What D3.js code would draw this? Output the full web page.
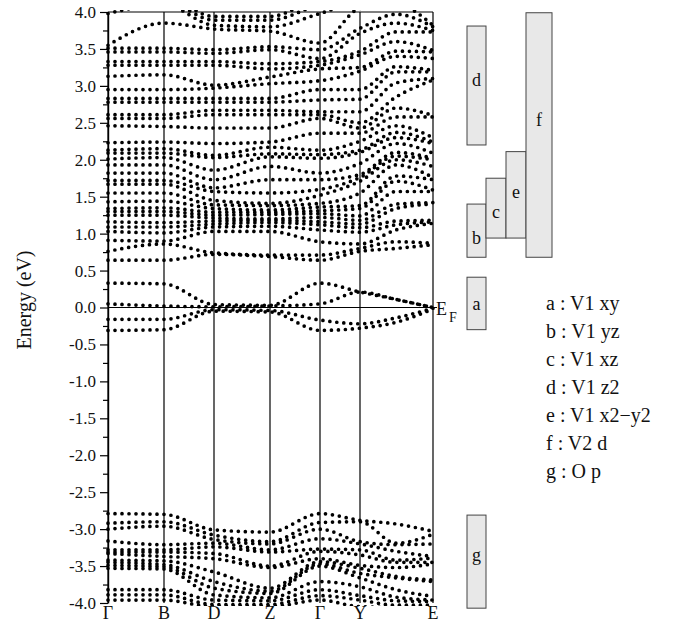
<!DOCTYPE html>
<html>
<head>
<meta charset="utf-8">
<script src="https://cdn.jsdelivr.net/npm/d3@7/dist/d3.min.js"></script>
<style>
body { margin: 0; background: #fff; }
svg { display: block; }
svg text { font-family: "Liberation Serif", "Times New Roman", serif; }
</style>
</head>
<body>
<script>
// k-path: high symmetry points
var kLabels = ["Γ", "B", "D", "Z", "Γ", "Y", "E"];
var kTicks = [0, 0.56, 1.06, 1.62, 2.12, 2.52, 3.25];
var kNodes = [0, 0.56, 1.06, 1.62, 2.12, 2.52, 2.88, 3.25];

// valence eigenvalues (eV), sorted, one array per k-node
var valG  = [-2.79,-2.92,-3.00,-3.16,-3.28,-3.31,-3.33,-3.42,-3.45,-3.49,-3.53,-3.82,-3.89,-3.96];
var valB  = [-2.80,-2.90,-2.96,-3.21,-3.28,-3.31,-3.37,-3.43,-3.48,-3.51,-3.54,-3.82,-3.89,-3.96];
var valD  = [-3.01,-3.08,-3.14,-3.19,-3.24,-3.33,-3.40,-3.58,-3.71,-3.80,-3.89,-3.96,-4.02,-4.05];
var valZ  = [-3.04,-3.17,-3.20,-3.28,-3.31,-3.50,-3.52,-3.80,-3.84,-3.87,-3.93,-3.97,-4.02,-4.05];
var valG2 = [-2.79,-2.91,-3.00,-3.13,-3.27,-3.30,-3.40,-3.44,-3.47,-3.50,-3.71,-3.82,-3.90,-3.96];
var valY  = [-2.88,-2.90,-3.17,-3.20,-3.28,-3.35,-3.49,-3.53,-3.60,-3.66,-3.78,-3.90,-3.96,-4.05];
var valYE = [-2.93,-3.19,-3.21,-3.30,-3.42,-3.45,-3.52,-3.64,-3.66,-3.82,-3.92,-3.97,-4.03,-4.06];
var valE  = [-3.03,-3.07,-3.20,-3.37,-3.39,-3.45,-3.47,-3.69,-3.71,-3.91,-3.96,-3.98,-4.03,-4.06];

// bands around the Fermi level, one array per band
var fermi1 = [0.33, 0.32, 0.04, 0.03, 0.33, 0.21, 0.11, 0.00];
var fermi2 = [0.05, 0.02, 0.01, 0.02, 0.05, 0.21, 0.11, 0.00];
var fermi3 = [-0.16, -0.16, -0.03, -0.04, -0.17, -0.22, -0.14, -0.01];
var fermi4 = [-0.31, -0.30, -0.05, -0.06, -0.31, -0.28, -0.20, -0.02];

// conduction eigenvalues (eV), sorted, one array per k-node
var condG  = [0.64,0.76,0.91,1.03,1.09,1.16,1.25,1.30,1.34,1.43,1.55,1.67,1.72,1.82,1.93,2.01,2.09,2.13,2.23,2.46,2.56,2.61,2.78,2.83,2.95,3.13,3.28,3.33,3.46,3.51,3.55,3.98,4.10,4.20,4.30];
var condB  = [0.64,0.86,0.90,1.01,1.09,1.15,1.25,1.30,1.35,1.44,1.55,1.67,1.72,1.82,1.93,2.03,2.09,2.15,2.24,2.45,2.56,2.61,2.78,2.83,2.95,3.15,3.28,3.33,3.46,3.51,3.85,4.10,4.15,4.20,4.30];
var condD  = [0.72,0.74,1.03,1.09,1.13,1.17,1.21,1.25,1.29,1.34,1.39,1.45,1.57,1.62,1.73,1.86,2.03,2.06,2.22,2.43,2.61,2.67,2.78,2.83,2.97,3.01,3.28,3.33,3.44,3.49,3.77,3.82,3.89,3.94,4.10];
var condZ  = [0.69,0.71,1.03,1.10,1.15,1.18,1.20,1.26,1.29,1.32,1.38,1.41,1.55,1.73,1.91,2.04,2.08,2.17,2.24,2.43,2.61,2.67,2.78,2.83,3.03,3.12,3.23,3.30,3.49,3.53,3.74,3.80,3.89,3.94,4.10];
var condG2 = [0.64,0.71,0.89,1.05,1.12,1.16,1.22,1.27,1.31,1.36,1.41,1.52,1.60,1.73,1.82,2.02,2.07,2.13,2.36,2.56,2.61,2.65,2.81,2.95,3.07,3.23,3.28,3.33,3.37,3.49,3.58,3.98,4.10,4.20,4.30];
var condY  = [0.76,0.80,0.86,1.02,1.08,1.13,1.18,1.24,1.34,1.38,1.55,1.71,1.76,1.80,1.95,2.10,2.13,2.25,2.36,2.43,2.50,2.65,2.82,2.95,3.20,3.25,3.42,3.47,3.71,3.78,4.05,4.15,4.20,4.30,4.40];
var condYE = [0.80,0.89,1.05,1.12,1.17,1.34,1.40,1.57,1.71,1.78,1.93,2.00,2.05,2.10,2.22,2.30,2.37,2.46,2.58,2.70,2.85,3.04,3.19,3.26,3.40,3.47,3.60,3.73,3.85,3.97,4.10,4.20,4.30,4.40,4.50];
var condE  = [0.85,0.87,1.14,1.16,1.18,1.40,1.42,1.57,1.59,1.73,1.76,1.91,2.00,2.02,2.09,2.22,2.24,2.30,2.58,2.60,3.08,3.10,3.19,3.21,3.37,3.46,3.48,3.73,3.75,3.80,3.82,4.10,4.20,4.30,4.40];

// energy windows of the orbital contributions
var boxLabels = ["a", "b", "c", "d", "e", "f", "g"];
var boxTop    = [0.41, 1.40, 1.75, 3.81, 2.11, 3.99, -2.81];
var boxBottom = [-0.30, 0.68, 0.94, 2.20, 0.94, 0.68, -4.07];
var legendText = ["a : V1 xy", "b : V1 yz", "c : V1 xz", "d : V1 z2", "e : V1 x2\u2212y2", "f : V2 d", "g : O p"];

var W = 678, H = 624;
var serif = "'Liberation Serif', 'Times New Roman', serif";
var svg = d3.select("body").append("svg").attr("width", W).attr("height", H);

var x = d3.scaleLinear().domain([0, 3.25]).range([108, 433]);
var y = d3.scaleLinear().domain([-4, 4]).range([603, 12]);

// build band polylines: band i = i-th eigenvalue at every k-node
function bandsFrom(sets) {
	var out = [];
	for (var i = 0; i < sets[0].length; i++) {
		out.push(kNodes.map(function (k, j) { return [k, sets[j][i]]; }));
	}
	return out;
}
var bands = bandsFrom([valG, valB, valD, valZ, valG2, valY, valYE, valE])
	.concat([fermi1, fermi2, fermi3, fermi4].map(function (b) {
		return kNodes.map(function (k, j) { return [k, b[j]]; });
	}))
	.concat(bandsFrom([condG, condB, condD, condZ, condG2, condY, condYE, condE]));

svg.append("defs").append("clipPath").attr("id", "clip")
	.append("rect").attr("x", 105).attr("y", 10).attr("width", 331).attr("height", 596);

var line = d3.line()
	.x(function (d) { return x(d[0]); })
	.y(function (d) { return y(d[1]); })
	.curve(d3.curveMonotoneX);

// dotted bands
svg.append("g").attr("clip-path", "url(#clip)")
	.selectAll("path.band").data(bands).enter()
	.append("path")
	.attr("class", "band")
	.attr("d", line)
	.attr("fill", "none")
	.attr("stroke", "#000")
	.attr("stroke-width", 3.7)
	.attr("stroke-linecap", "round")
	.attr("stroke-dasharray", "0 7");

// vertical lines at the high symmetry points
svg.selectAll("line.kline").data(kTicks).enter()
	.append("line")
	.attr("class", "kline")
	.attr("x1", function (d) { return x(d); })
	.attr("x2", function (d) { return x(d); })
	.attr("y1", y(4)).attr("y2", y(-4))
	.attr("stroke", "#000").attr("stroke-width", 1.2);

// top frame
svg.append("line")
	.attr("x1", x(0)).attr("x2", x(3.25))
	.attr("y1", y(4)).attr("y2", y(4))
	.attr("stroke", "#000").attr("stroke-width", 1.2);

// Fermi level
svg.append("line")
	.attr("x1", x(0)).attr("x2", x(3.25) + 4)
	.attr("y1", y(0)).attr("y2", y(0))
	.attr("stroke", "#000").attr("stroke-width", 1);

// y axis, major + minor ticks
var yAxis = svg.append("g")
	.attr("transform", "translate(" + x(0) + ",0)")
	.call(d3.axisLeft(y)
		.tickValues(d3.range(-4, 4.01, 0.5))
		.tickFormat(function (d) { return d.toFixed(1); })
		.tickSize(8).tickSizeOuter(0).tickPadding(4));
yAxis.attr("font-family", null).style("font-family", serif);
yAxis.select(".domain").attr("stroke-width", 1.4);
yAxis.selectAll("line").attr("stroke-width", 1.2);
yAxis.selectAll("text").attr("font-size", "17px").attr("fill", "#111");

var minor = svg.append("g")
	.attr("transform", "translate(" + x(0) + ",0)")
	.call(d3.axisLeft(y)
		.tickValues(d3.range(-3.75, 4, 0.5))
		.tickFormat("")
		.tickSize(5).tickSizeOuter(0));
minor.select(".domain").remove();
minor.selectAll("line").attr("stroke-width", 1.2);

svg.append("text")
	.attr("transform", "translate(31,300) rotate(-90)")
	.attr("text-anchor", "middle")
	.attr("font-size", "20px")
	.attr("fill", "#111")
	.text("Energy (eV)");

// k labels
svg.selectAll("text.klab").data(kLabels).enter()
	.append("text")
	.attr("class", "klab")
	.attr("x", function (d, i) { return x(kTicks[i]); })
	.attr("y", 619)
	.attr("text-anchor", "middle")
	.attr("font-size", "18px")
	.attr("fill", "#111")
	.text(function (d) { return d; });

// E_F label
svg.append("text").attr("x", 436).attr("y", 315).attr("font-size", "18px").attr("fill", "#111").text("E");
svg.append("text").attr("x", 449).attr("y", 322).attr("font-size", "14px").attr("fill", "#111").text("F");

// orbital windows
var colX = [467, 486, 506, 526, 552];
var boxCol = [0, 0, 1, 0, 2, 3, 0];
var labelShift = [2, 8, 5, -5, -2, -14, -6];
var boxes = svg.selectAll("g.box").data(boxLabels).enter().append("g").attr("class", "box");
boxes.append("rect")
	.attr("x", function (d, i) { return colX[boxCol[i]]; })
	.attr("width", function (d, i) { return colX[boxCol[i] + 1] - colX[boxCol[i]]; })
	.attr("y", function (d, i) { return y(boxTop[i]); })
	.attr("height", function (d, i) { return y(boxBottom[i]) - y(boxTop[i]); })
	.attr("fill", "#e8e8e8")
	.attr("stroke", "#444")
	.attr("stroke-width", 1);
boxes.append("text")
	.attr("x", function (d, i) { return (colX[boxCol[i]] + colX[boxCol[i] + 1]) / 2; })
	.attr("y", function (d, i) { return (y(boxTop[i]) + y(boxBottom[i])) / 2 + 5 + labelShift[i]; })
	.attr("text-anchor", "middle")
	.attr("font-size", "18px")
	.attr("fill", "#111")
	.text(function (d) { return d; });

// legend
svg.selectAll("text.leg").data(legendText).enter()
	.append("text")
	.attr("class", "leg")
	.attr("x", 546)
	.attr("y", function (d, i) { return 310 + i * 28; })
	.attr("font-size", "20px")
	.attr("fill", "#111")
	.text(function (d) { return d; });
</script>
</body>
</html>
